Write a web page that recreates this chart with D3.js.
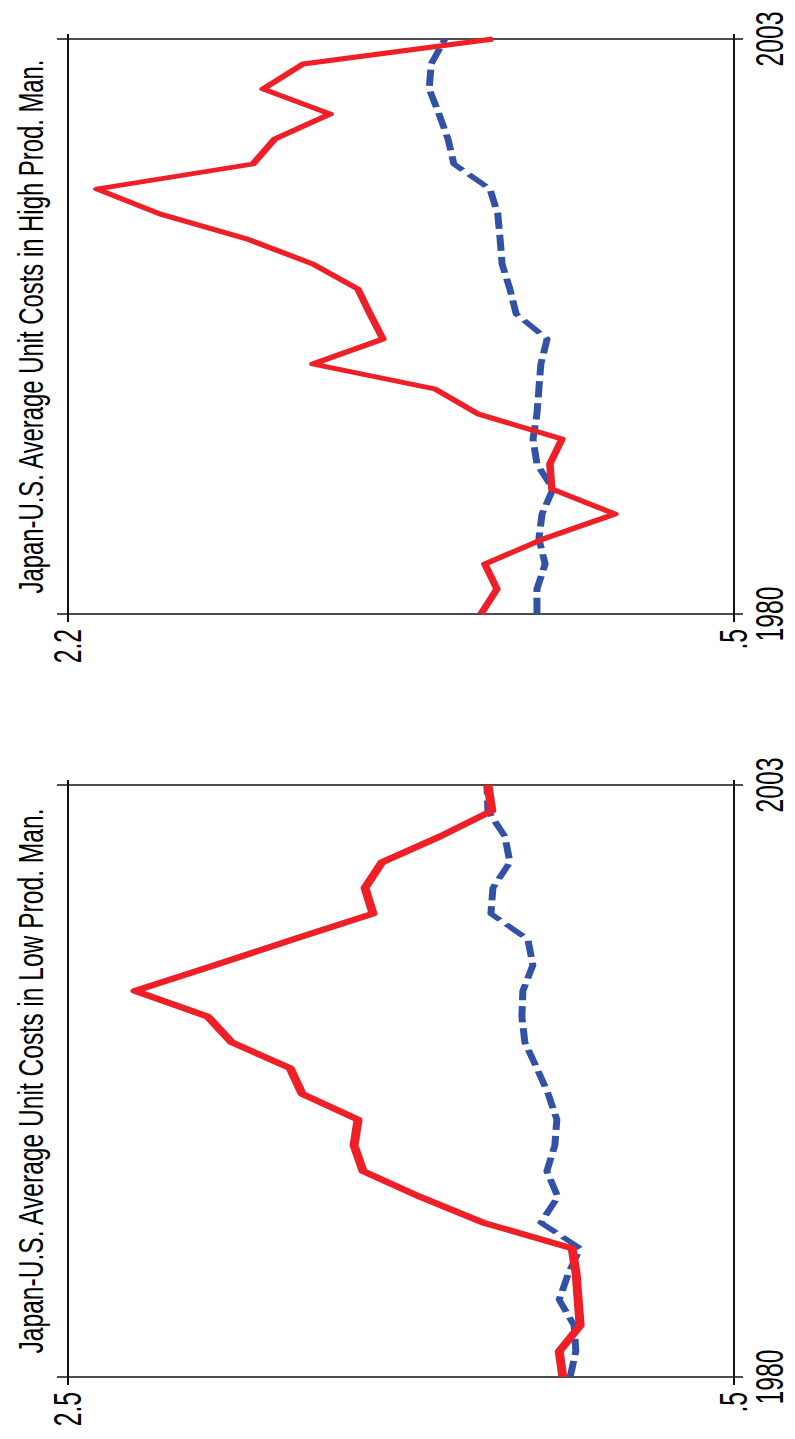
<!DOCTYPE html>
<html>
<head>
<meta charset="utf-8">
<script src="https://cdn.jsdelivr.net/npm/d3@7"></script>
<style>
  html, body { margin: 0; padding: 0; background: #fff; }
  text { font-family: "Liberation Sans", Arial, sans-serif; fill: #000; }
</style>
</head>
<body>
<div id="chart"></div>
<script>
// years on the (rotated) time axis
const years = [1980,1981,1982,1983,1984,1985,1986,1987,1988,1989,1990,1991,
               1992,1993,1994,1995,1996,1997,1998,1999,2000,2001,2002,2003];

// High productivity manufacturing
const highRed  = [1.146,1.105,1.136,0.987,0.804,0.965,0.970,0.939,1.153,1.263,1.575,1.396,
                  1.429,1.460,1.575,1.743,1.965,2.126,1.728,1.672,1.531,1.702,1.600,1.115];
const highBlue = [1.003,1.003,0.982,0.998,0.990,0.962,1.003,1.013,1.003,0.998,0.993,0.977,
                  1.056,1.072,1.092,1.097,1.103,1.123,1.215,1.230,1.253,1.278,1.273,1.238];

// Low productivity manufacturing
const lowRed   = [1.014,1.025,0.962,0.968,0.974,0.986,1.254,1.443,1.614,1.641,1.629,1.797,
                  1.833,2.008,2.080,2.299,2.059,1.824,1.584,1.608,1.557,1.383,1.227,1.239];
const lowBlue  = [0.992,0.975,0.980,1.025,0.998,0.962,1.080,1.029,1.062,1.038,1.032,1.058,
                  1.092,1.128,1.137,1.134,1.104,1.119,1.230,1.224,1.173,1.188,1.239,1.242];

const highTicks = [".5", "2.2"];
const lowTicks  = [".5", "2.5"];
const yearTicks = ["1980", "2003"];

const W = 795, H = 1439;
// the picture is the original graph turned a quarter turn and squeezed vertically
const k = 0.65;

const svg = d3.select('#chart').append('svg')
  .attr('width', W).attr('height', H)
  .attr('viewBox', [0, 0, W, H]);

svg.append('rect').attr('width', W).attr('height', H).attr('fill', '#fff');

const makePanel = (cfg) => {

  const g = svg.append('g').attr('transform', 'scale(1,' + k + ')');

  const x = d3.scaleLinear()
    .domain([0.5, +cfg.ticks[1]])
    .range([734, 68]);

  const y = d3.scaleLinear()
    .domain([+yearTicks[0], +yearTicks[1]])
    .range([cfg.bottom / k, cfg.top / k]);

  const vMin = 0.5, vMax = +cfg.ticks[1];
  const yr0 = +yearTicks[0], yr1 = +yearTicks[1];

  // frame, lines run a bit past the corners
  [yr0, yr1].forEach(yr => {
    g.append('line')
      .attr('x1', x(vMax) - 11).attr('x2', x(vMin) + 9)
      .attr('y1', y(yr)).attr('y2', y(yr))
      .attr('stroke', '#111').attr('stroke-width', 2.2);
  });
  [vMax, vMin].forEach(v => {
    g.append('line')
      .attr('x1', x(v)).attr('x2', x(v))
      .attr('y1', y(yr1) - 5 / k).attr('y2', y(yr0) + 8 / k)
      .attr('stroke', '#111').attr('stroke-width', 2);
  });

  // value labels
  cfg.ticks.forEach(t => {
    g.append('text')
      .attr('transform', 'translate(' + (x(+t) + 13) + ',' + (y(yr0) + 15 / k) + ') rotate(-90)')
      .attr('text-anchor', 'end')
      .attr('font-size', 38)
      .text(t);
  });

  // year labels
  yearTicks.forEach(t => {
    g.append('text')
      .attr('transform', 'translate(783,' + y(+t) + ') rotate(-90)')
      .attr('text-anchor', 'middle')
      .attr('font-size', 38)
      .text(t);
  });

  // title
  g.append('text')
    .attr('transform', 'translate(43,' + ((y(yr0) + y(yr1)) / 2) + ') rotate(-90)')
    .attr('text-anchor', 'middle')
    .attr('font-size', 36)
    .attr('textLength', cfg.titleLen / k)
    .attr('lengthAdjust', 'spacingAndGlyphs')
    .text(cfg.title);

  const line = d3.line()
    .x(d => x(d.v))
    .y(d => y(d.year));

  const blueData = years.map((yr, i) => ({year: yr, v: cfg.blue[i]}));
  const redData = years.map((yr, i) => ({year: yr, v: cfg.red[i]}));

  g.append('path')
    .datum(blueData)
    .attr('d', line)
    .attr('fill', 'none')
    .attr('stroke', '#3253a5')
    .attr('stroke-width', 7)
    .attr('stroke-dasharray', '25,9')
    .attr('stroke-linejoin', 'round');

  g.append('path')
    .datum(redData)
    .attr('d', line)
    .attr('fill', 'none')
    .attr('stroke', '#ee1f26')
    .attr('stroke-width', cfg.redW)
    .attr('stroke-linejoin', 'round');
}

makePanel({
  top: 39, bottom: 614,
  ticks: highTicks,
  red: highRed, blue: highBlue, redW: 7.5,
  title: 'Japan-U.S. Average Unit Costs in High Prod. Man.',
  titleLen: 534
});

makePanel({
  top: 785, bottom: 1377,
  ticks: lowTicks,
  red: lowRed, blue: lowBlue, redW: 9,
  title: 'Japan-U.S. Average Unit Costs in Low Prod. Man.',
  titleLen: 545
});
</script>
</body>
</html>
